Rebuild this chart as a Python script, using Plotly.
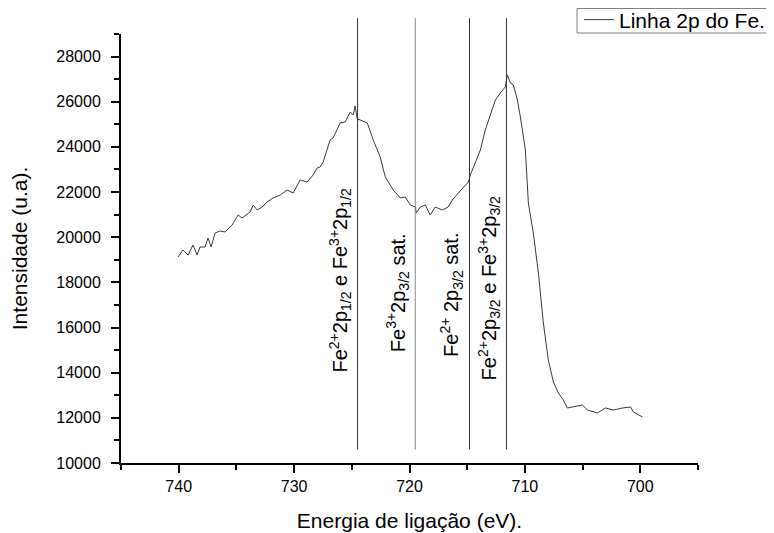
import plotly.graph_objects as go

# Binding energy (eV) and intensity (a.u.)
energy = [740.06, 739.62, 739.19, 738.76, 738.41, 738.15, 737.72, 737.46, 737.19, 736.85,
          736.41, 735.98, 735.37, 735.11, 734.85, 734.51, 733.81, 733.55, 733.20, 732.77,
          732.34, 731.82, 731.20, 730.60, 730.08, 729.48, 728.87, 728.35, 728.00, 727.74,
          727.48, 726.88, 726.62, 726.01, 725.57, 725.14, 724.88, 724.71, 724.53, 724.27,
          723.66, 723.14, 722.54, 722.10, 721.41, 720.80, 720.37, 719.93, 719.50, 719.41,
          719.07, 718.63, 718.20, 717.77, 717.16, 716.64, 716.29, 715.77, 715.16, 714.90,
          714.73, 714.47, 713.86, 713.43, 713.00, 712.56, 712.13, 711.70, 711.52, 711.26,
          711.00, 710.65, 710.39, 710.13, 709.96, 709.70, 709.27, 708.83, 708.40, 707.97,
          707.53, 707.10, 706.67, 706.32, 705.80, 705.02, 704.58, 703.72, 703.02, 702.33,
          701.55, 700.85, 700.59, 699.81]
intensity = [19124, 19434, 19212, 19655, 19212, 19567, 19567, 19965, 19567, 20187,
             20275, 20231, 20541, 20762, 20984, 20851, 21117, 21427, 21205, 21338,
             21560, 21737, 21870, 22091, 21958, 22534, 22445, 22756, 23066, 23110,
             23331, 24306, 24394, 25059, 25103, 25546, 25413, 25812, 25236, 25191,
             25059, 24306, 23553, 22667, 22091, 21737, 21781, 21427, 21338, 21073,
             21338, 21427, 20984, 21338, 21205, 21338, 21648, 21958, 22313, 22445,
             22756, 23110, 23863, 24749, 25413, 26077, 26387, 26653, 27185, 26830,
             26742, 26077, 25324, 24306, 23863, 21515, 20187, 18415, 16201, 14562,
             13587, 13100, 12790, 12436, 12480, 12569, 12347, 12215, 12436, 12347,
             12436, 12480, 12259, 12037]

series_name = "Linha 2p do Fe."
x_title = "Energia de ligação (eV)."
y_title = "Intensidade (u.a)."

# Reference lines for peak assignments
peak_positions = [724.5, 719.5, 714.8, 711.6]
peak_labels = [
    "Fe<sup>2+</sup>2p<sub>1/2</sub> e Fe<sup>3+</sup>2p<sub>1/2</sub>",
    "Fe<sup>3+</sup>2p<sub>3/2</sub> sat.",
    "Fe<sup>2+</sup> 2p<sub>3/2</sub> sat.",
    "Fe<sup>2+</sup>2p<sub>3/2</sub> e Fe<sup>3+</sup>2p<sub>3/2</sub>",
]
peak_line_colors = ["#333333", "#888888", "#333333", "#333333"]
label_bottoms = [13900, 14830, 14610, 13590]

line_low, line_high = 10600, 29700

x_range = [745, 695]
y_range = [10000, 29000]
x_ticks = [740, 730, 720, 710, 700]
y_ticks = [10000, 12000, 14000, 16000, 18000, 20000, 22000, 24000, 26000, 28000]

FONT = "Liberation Sans, Arial, sans-serif"

# figure geometry (page body adds an 8 px offset)
W, H = 766, 525
ML, MR, MT, MB = 113, 76, 26, 70
PW, PH = W - ML - MR, H - MT - MB

def px_to_paper_x(px):
    return (px - ML) / PW

def px_to_paper_y(py):
    return (H - MB - py) / PH

fig = go.Figure()
fig.add_trace(go.Scatter(
    x=energy, y=intensity, mode="lines", name=series_name,
    line=dict(color="#3a3a3a", width=1),
))

def to_paper(v):
    return (v - y_range[0]) / (y_range[1] - y_range[0])

shapes = []
annotations = []
for pos, lab, col, yb in zip(peak_positions, peak_labels, peak_line_colors, label_bottoms):
    shapes.append(dict(type="line", xref="x", yref="paper",
                       x0=pos, x1=pos, y0=to_paper(line_low), y1=to_paper(line_high),
                       line=dict(color=col, width=1)))
    annotations.append(dict(x=pos, y=yb, xref="x", yref="y", text=lab,
                            textangle=-90, showarrow=False, xanchor="right",
                            yanchor="bottom", xshift=-1,
                            font=dict(family=FONT, size=20, color="#000000")))

# legend frame
shapes.append(dict(type="rect", xref="paper", yref="paper",
                   x0=px_to_paper_x(569), x1=px_to_paper_x(768),
                   y0=px_to_paper_y(25), y1=px_to_paper_y(0.5),
                   line=dict(color="#808080", width=1), fillcolor="rgba(0,0,0,0)"))

fig.update_layout(
    width=W, height=H,
    margin=dict(l=ML, r=MR, t=MT, b=MB, autoexpand=False),
    plot_bgcolor="white", paper_bgcolor="white",
    font=dict(family=FONT, size=16, color="#000000"),
    showlegend=True,
    legend=dict(x=px_to_paper_x(571), y=px_to_paper_y(12), xanchor="left", yanchor="middle",
                borderwidth=0, bgcolor="rgba(0,0,0,0)",
                font=dict(family=FONT, size=21, color="#000000"),
                itemwidth=30, tracegroupgap=0),
    shapes=shapes,
    annotations=annotations,
    xaxis=dict(range=x_range, tickmode="array", tickvals=x_ticks,
               ticktext=[str(t) for t in x_ticks], automargin=False,
               showline=True, linecolor="black", linewidth=2,
               ticks="outside", ticklen=8, tickwidth=2, tickcolor="black",
               minor=dict(tickmode="linear", tick0=695, dtick=5, ticks="outside",
                          ticklen=5, tickwidth=2, tickcolor="black"),
               showgrid=False, zeroline=False,
               title=dict(text=x_title, font=dict(family=FONT, size=21), standoff=19),
               tickfont=dict(family=FONT, size=16)),
    yaxis=dict(range=y_range, tickmode="array", tickvals=y_ticks,
               ticktext=[str(t) for t in y_ticks], automargin=False,
               showline=True, linecolor="black", linewidth=2,
               ticks="outside", ticklen=8, tickwidth=2, tickcolor="black",
               ticklabelstandoff=7,
               minor=dict(tickmode="linear", tick0=10000, dtick=1000, ticks="outside",
                          ticklen=5, tickwidth=2, tickcolor="black"),
               showgrid=False, zeroline=False,
               title=dict(text=y_title, font=dict(family=FONT, size=21), standoff=28),
               tickfont=dict(family=FONT, size=16)),
)

fig.write_html("out.html")
